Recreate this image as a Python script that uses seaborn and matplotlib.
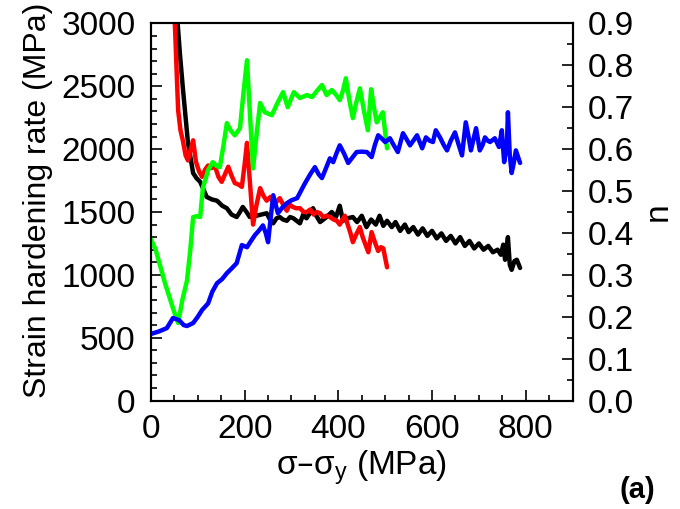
import numpy as np
import pandas as pd
import matplotlib
matplotlib.use('Agg')
import matplotlib.pyplot as plt
import seaborn as sns
from matplotlib.ticker import MultipleLocator

# strain hardening rate (left axis)
black_x = [57, 62, 68, 74, 79, 85, 90, 97, 105, 112, 119, 130, 141, 152, 162, 172, 183, 190, 196, 204, 211,
           218, 225, 236, 247, 254, 261, 268, 275, 282, 290, 297, 304, 311, 318, 325, 332, 339, 346, 353, 361,
           368, 375, 386, 395, 403, 410, 420, 431, 440, 450, 460, 470, 480, 488, 496, 504, 514, 522, 532, 542,
           550, 560, 570, 580, 590, 600, 610, 620, 630, 640, 650, 660, 670, 680, 690, 700, 710, 720, 730, 740,
           747, 752, 756, 762, 766, 770, 776, 781, 788]
black_y = [3000, 2750, 2490, 2250, 2050, 1920, 1810, 1770, 1740, 1680, 1620, 1600, 1590, 1550, 1530, 1480, 1460, 1500, 1540, 1500, 1460,
           1470, 1470, 1480, 1490, 1440, 1410, 1450, 1460, 1440, 1430, 1460, 1450, 1430, 1410, 1480, 1450, 1490, 1530, 1470, 1420,
           1440, 1460, 1500, 1460, 1550, 1430, 1450, 1460, 1420, 1470, 1380, 1440, 1400, 1470, 1390, 1430, 1380, 1420, 1350, 1400,
           1340, 1380, 1320, 1370, 1310, 1350, 1290, 1330, 1270, 1310, 1250, 1300, 1230, 1270, 1210, 1250, 1200, 1230, 1180, 1200,
           1160, 1240, 1120, 1300, 1080, 1040, 1110, 1120, 1055]

red_x = [51, 55, 58, 63, 68, 74, 79, 85, 90, 96, 103, 109, 116, 122, 130, 137, 144, 151, 158, 165, 172, 179, 186,
         194, 200, 205, 212, 218, 225, 233, 240, 247, 255, 263, 275, 282, 290, 296, 303, 310, 318, 326, 333, 340,
         347, 354, 361, 368, 375, 382, 390, 397, 403, 409, 414, 420, 426, 431, 438, 446, 452, 458, 464, 471, 478,
         485, 491, 496, 504]
red_y = [3000, 2600, 2310, 2150, 2070, 1950, 1910, 2000, 2070, 1900, 1820, 1780, 1840, 1870, 1850, 1860, 1780, 1740, 1800, 1860, 1790, 1730, 1720,
         1700, 1880, 2050, 1700, 1400, 1550, 1690, 1630, 1590, 1620, 1560, 1610, 1560, 1510, 1560, 1540, 1530, 1530, 1500, 1500, 1520,
         1480, 1500, 1490, 1460, 1470, 1460, 1440, 1430, 1400, 1440, 1470, 1400, 1330, 1260, 1320, 1380, 1300, 1240, 1180, 1340, 1260,
         1190, 1220, 1210, 1060]

# n (right axis)
green_x = [0, 10, 20, 30, 40, 50, 58, 67, 77, 84, 90, 98, 105, 111, 117, 122, 132, 140, 147, 155, 162, 170, 179,
           190, 198, 205, 211, 218, 225, 233, 243, 258, 270, 282, 292, 305, 318, 333, 344, 355, 365, 375, 386, 395,
           403, 410, 416, 423, 431, 438, 446, 455, 463, 470, 476, 482, 488, 495, 504]
green_n = [0.385, 0.36, 0.32, 0.28, 0.245, 0.21, 0.185, 0.24, 0.287, 0.36, 0.438, 0.44, 0.438, 0.509, 0.53, 0.55, 0.569, 0.56, 0.557, 0.61, 0.662, 0.645, 0.633,
           0.65, 0.74, 0.812, 0.69, 0.554, 0.63, 0.71, 0.688, 0.681, 0.71, 0.736, 0.70, 0.736, 0.722, 0.729, 0.724, 0.74, 0.753, 0.729, 0.741, 0.73,
           0.717, 0.74, 0.769, 0.72, 0.674, 0.71, 0.745, 0.69, 0.645, 0.743, 0.70, 0.664, 0.675, 0.688, 0.602]

blue_x = [0, 17, 34, 47, 60, 70, 77, 90, 100, 109, 122, 131, 141, 152, 162, 172, 183, 194, 205, 213, 222, 230, 239,
          245, 250, 256, 261, 271, 280, 290, 300, 312, 320, 329, 340, 350, 358, 365, 372, 382, 389, 396, 403, 412,
          421, 430, 439, 450, 461, 471, 478, 485, 493, 500, 510, 518, 527, 538, 545, 553, 560, 568, 579, 587, 595,
          602, 608, 617, 625, 632, 640, 649, 657, 664, 672, 678, 683, 694, 702, 708, 713, 719, 724, 734, 743, 749,
          754, 760, 762, 766, 770, 775, 779, 788]
blue_n = [0.159, 0.165, 0.173, 0.197, 0.192, 0.18, 0.178, 0.185, 0.2, 0.216, 0.232, 0.26, 0.28, 0.29, 0.304, 0.315, 0.328, 0.371, 0.366, 0.38, 0.395, 0.405, 0.418,
          0.40, 0.378, 0.44, 0.49, 0.447, 0.46, 0.471, 0.478, 0.483, 0.50, 0.519, 0.54, 0.557, 0.54, 0.531, 0.55, 0.578, 0.569, 0.59, 0.609, 0.59,
          0.567, 0.58, 0.593, 0.594, 0.593, 0.581, 0.61, 0.633, 0.625, 0.617, 0.626, 0.61, 0.593, 0.638, 0.625, 0.609, 0.62, 0.633, 0.602, 0.628, 0.62,
          0.617, 0.645, 0.628, 0.61, 0.597, 0.62, 0.64, 0.61, 0.585, 0.664, 0.63, 0.597, 0.65, 0.597, 0.61, 0.628, 0.62, 0.617, 0.626, 0.605, 0.645,
          0.569, 0.614, 0.688, 0.585, 0.543, 0.57, 0.597, 0.567]

sns.set_style('ticks')
plt.rcParams['font.family'] = ['Liberation Sans', 'DejaVu Sans']
plt.rcParams['mathtext.default'] = 'regular'
plt.rcParams['text.color'] = 'black'
plt.rcParams['axes.labelcolor'] = 'black'

fig = plt.figure(figsize=(6.8, 5.09), dpi=100)
ax = fig.add_axes([0.222, 0.213, 0.620, 0.741])
ax2 = ax.twinx()

lw = 3.2
sns.lineplot(x=black_x, y=black_y, ax=ax, color='black', lw=lw, sort=False, estimator=None)
sns.lineplot(x=red_x, y=red_y, ax=ax, color='red', lw=lw, sort=False, estimator=None)
sns.lineplot(x=green_x, y=green_n, ax=ax2, color='#00ff00', lw=lw, sort=False, estimator=None)
sns.lineplot(x=blue_x, y=blue_n, ax=ax2, color='blue', lw=lw, sort=False, estimator=None)

ax.set_xlim(0, 900)
ax.set_ylim(0, 3000)
ax2.set_ylim(0, 0.9)

ax.xaxis.set_major_locator(MultipleLocator(200))
ax.xaxis.set_minor_locator(MultipleLocator(50))
ax.yaxis.set_major_locator(MultipleLocator(500))
ax.yaxis.set_minor_locator(MultipleLocator(100))
ax2.yaxis.set_major_locator(MultipleLocator(0.1))
ax2.yaxis.set_minor_locator(MultipleLocator(0.05))
ax2.yaxis.set_major_formatter(matplotlib.ticker.FormatStrFormatter('%.1f'))

for a in (ax, ax2):
    for s in a.spines.values():
        s.set_visible(True)
        s.set_linewidth(1.5)
        s.set_color('black')
    a.tick_params(which='major', direction='in', length=8, width=1.2, labelsize=24,
                  colors='black', labelcolor='black')
    a.tick_params(which='minor', direction='in', length=4, width=1.2, colors='black')
ax.tick_params(axis='both', which='both', top=False, right=False)
ax.tick_params(axis='x', which='major', pad=10)
ax.tick_params(axis='y', which='major', pad=11)
ax2.tick_params(axis='y', which='major', pad=11)

ax.set_xlabel('σ–σ$_y$ (MPa)', fontsize=24, labelpad=2)
ax.set_ylabel('Strain hardening rate (MPa)', fontsize=23, labelpad=6)
ax.yaxis.label.set_y(0.53)
ax2.set_ylabel('n', fontsize=24, labelpad=6)

fig.text(0.938, 0.037, '(a)', fontsize=21, fontweight='bold', ha='center', va='center')

fig.savefig('out.png', dpi=100)
